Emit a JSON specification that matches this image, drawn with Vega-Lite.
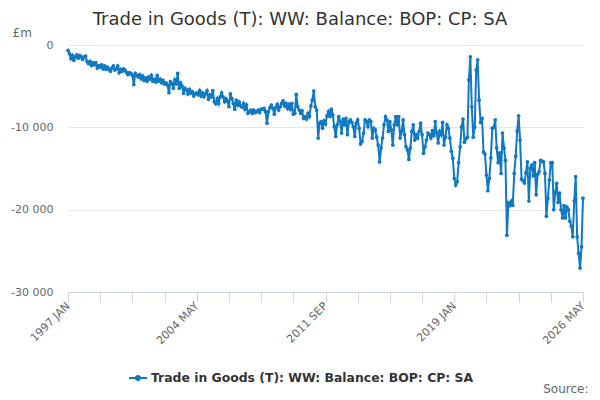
{
  "$schema": "https://vega.github.io/schema/vega-lite/v6.json",
  "width": 515,
  "height": 247,
  "autosize": "none",
  "padding": {"left": 68, "top": 45, "right": 17, "bottom": 108},
  "background": "white",
  "title": {
    "text": "Trade in Goods (T): WW: Balance: BOP: CP: SA",
    "anchor": "middle",
    "frame": "group",
    "dx": -25.5,
    "offset": -3,
    "font": "DejaVu Sans",
    "fontSize": 18,
    "fontWeight": "normal",
    "color": "#333333"
  },
  "config": {
    "view": {"stroke": null},
    "font": "DejaVu Sans"
  },
  "data": {
    "values": [
      {"period": "1997 JAN", "value": -650}, {"period": "1997 FEB", "value": -1050}, {"period": "1997 MAR", "value": -1650}, {"period": "1997 APR", "value": -1250},
      {"period": "1997 MAY", "value": -1850}, {"period": "1997 JUN", "value": -1450}, {"period": "1997 JUL", "value": -1200}, {"period": "1997 AUG", "value": -1600},
      {"period": "1997 SEP", "value": -1250}, {"period": "1997 OCT", "value": -1450}, {"period": "1997 NOV", "value": -1750}, {"period": "1997 DEC", "value": -1450},
      {"period": "1998 JAN", "value": -1350}, {"period": "1998 FEB", "value": -2000}, {"period": "1998 MAR", "value": -2250}, {"period": "1998 APR", "value": -2000},
      {"period": "1998 MAY", "value": -2500}, {"period": "1998 JUN", "value": -2150}, {"period": "1998 JUL", "value": -2400}, {"period": "1998 AUG", "value": -2150},
      {"period": "1998 SEP", "value": -2800}, {"period": "1998 OCT", "value": -2500}, {"period": "1998 NOV", "value": -2700}, {"period": "1998 DEC", "value": -2400},
      {"period": "1999 JAN", "value": -2900}, {"period": "1999 FEB", "value": -2550}, {"period": "1999 MAR", "value": -2950}, {"period": "1999 APR", "value": -2700},
      {"period": "1999 MAY", "value": -2950}, {"period": "1999 JUN", "value": -3200}, {"period": "1999 JUL", "value": -2800}, {"period": "1999 AUG", "value": -2550},
      {"period": "1999 SEP", "value": -3050}, {"period": "1999 OCT", "value": -2900}, {"period": "1999 NOV", "value": -2550}, {"period": "1999 DEC", "value": -3350},
      {"period": "2000 JAN", "value": -2950}, {"period": "2000 FEB", "value": -3200}, {"period": "2000 MAR", "value": -2900}, {"period": "2000 APR", "value": -3050},
      {"period": "2000 MAY", "value": -3350}, {"period": "2000 JUN", "value": -3600}, {"period": "2000 JUL", "value": -3350}, {"period": "2000 AUG", "value": -3450},
      {"period": "2000 SEP", "value": -3700}, {"period": "2000 OCT", "value": -4800}, {"period": "2000 NOV", "value": -3450}, {"period": "2000 DEC", "value": -3700},
      {"period": "2001 JAN", "value": -3900}, {"period": "2001 FEB", "value": -3600}, {"period": "2001 MAR", "value": -4100}, {"period": "2001 APR", "value": -3750},
      {"period": "2001 MAY", "value": -4300}, {"period": "2001 JUN", "value": -4000}, {"period": "2001 JUL", "value": -4400}, {"period": "2001 AUG", "value": -3900},
      {"period": "2001 SEP", "value": -4150}, {"period": "2001 OCT", "value": -3700}, {"period": "2001 NOV", "value": -4400}, {"period": "2001 DEC", "value": -4150},
      {"period": "2002 JAN", "value": -4500}, {"period": "2002 FEB", "value": -3700}, {"period": "2002 MAR", "value": -4400}, {"period": "2002 APR", "value": -4150},
      {"period": "2002 MAY", "value": -4600}, {"period": "2002 JUN", "value": -4300}, {"period": "2002 JUL", "value": -4750}, {"period": "2002 AUG", "value": -4600},
      {"period": "2002 SEP", "value": -4850}, {"period": "2002 OCT", "value": -5800}, {"period": "2002 NOV", "value": -4450}, {"period": "2002 DEC", "value": -4650},
      {"period": "2003 JAN", "value": -5250}, {"period": "2003 FEB", "value": -4250}, {"period": "2003 MAR", "value": -4750}, {"period": "2003 APR", "value": -3450},
      {"period": "2003 MAY", "value": -5250}, {"period": "2003 JUN", "value": -4600}, {"period": "2003 JUL", "value": -5000}, {"period": "2003 AUG", "value": -5850},
      {"period": "2003 SEP", "value": -5250}, {"period": "2003 OCT", "value": -5450}, {"period": "2003 NOV", "value": -5950}, {"period": "2003 DEC", "value": -5400},
      {"period": "2004 JAN", "value": -5850}, {"period": "2004 FEB", "value": -5650}, {"period": "2004 MAR", "value": -6200}, {"period": "2004 APR", "value": -5950},
      {"period": "2004 MAY", "value": -5800}, {"period": "2004 JUN", "value": -6050}, {"period": "2004 JUL", "value": -5550}, {"period": "2004 AUG", "value": -6200},
      {"period": "2004 SEP", "value": -5800}, {"period": "2004 OCT", "value": -6300}, {"period": "2004 NOV", "value": -5950}, {"period": "2004 DEC", "value": -5550},
      {"period": "2005 JAN", "value": -6600}, {"period": "2005 FEB", "value": -6050}, {"period": "2005 MAR", "value": -6300}, {"period": "2005 APR", "value": -5550},
      {"period": "2005 MAY", "value": -6900}, {"period": "2005 JUN", "value": -7150}, {"period": "2005 JUL", "value": -6500}, {"period": "2005 AUG", "value": -7100},
      {"period": "2005 SEP", "value": -6300}, {"period": "2005 OCT", "value": -5800}, {"period": "2005 NOV", "value": -6300}, {"period": "2005 DEC", "value": -6900},
      {"period": "2006 JAN", "value": -6500}, {"period": "2006 FEB", "value": -6800}, {"period": "2006 MAR", "value": -7500}, {"period": "2006 APR", "value": -5950},
      {"period": "2006 MAY", "value": -6500}, {"period": "2006 JUN", "value": -7100}, {"period": "2006 JUL", "value": -7800}, {"period": "2006 AUG", "value": -6700},
      {"period": "2006 SEP", "value": -7300}, {"period": "2006 OCT", "value": -6900}, {"period": "2006 NOV", "value": -7400}, {"period": "2006 DEC", "value": -7550},
      {"period": "2007 JAN", "value": -7100}, {"period": "2007 FEB", "value": -7800}, {"period": "2007 MAR", "value": -7300}, {"period": "2007 APR", "value": -8300},
      {"period": "2007 MAY", "value": -8100}, {"period": "2007 JUN", "value": -7900}, {"period": "2007 JUL", "value": -8300}, {"period": "2007 AUG", "value": -7900},
      {"period": "2007 SEP", "value": -8200}, {"period": "2007 OCT", "value": -8100}, {"period": "2007 NOV", "value": -7900}, {"period": "2007 DEC", "value": -8200},
      {"period": "2008 JAN", "value": -7800}, {"period": "2008 FEB", "value": -7800}, {"period": "2008 MAR", "value": -7700}, {"period": "2008 APR", "value": -8100},
      {"period": "2008 MAY", "value": -9500}, {"period": "2008 JUN", "value": -8100}, {"period": "2008 JUL", "value": -7600}, {"period": "2008 AUG", "value": -7300},
      {"period": "2008 SEP", "value": -7700}, {"period": "2008 OCT", "value": -8400}, {"period": "2008 NOV", "value": -7600}, {"period": "2008 DEC", "value": -7200},
      {"period": "2009 JAN", "value": -7900}, {"period": "2009 FEB", "value": -7500}, {"period": "2009 MAR", "value": -7100}, {"period": "2009 APR", "value": -6800},
      {"period": "2009 MAY", "value": -7400}, {"period": "2009 JUN", "value": -7100}, {"period": "2009 JUL", "value": -7700}, {"period": "2009 AUG", "value": -7200},
      {"period": "2009 SEP", "value": -7800}, {"period": "2009 OCT", "value": -7100}, {"period": "2009 NOV", "value": -8400}, {"period": "2009 DEC", "value": -8300},
      {"period": "2010 JAN", "value": -6000}, {"period": "2010 FEB", "value": -7500}, {"period": "2010 MAR", "value": -7900}, {"period": "2010 APR", "value": -8300},
      {"period": "2010 MAY", "value": -8000}, {"period": "2010 JUN", "value": -8900}, {"period": "2010 JUL", "value": -8700}, {"period": "2010 AUG", "value": -9000},
      {"period": "2010 SEP", "value": -8300}, {"period": "2010 OCT", "value": -8700}, {"period": "2010 NOV", "value": -7400}, {"period": "2010 DEC", "value": -6700},
      {"period": "2011 JAN", "value": -5600}, {"period": "2011 FEB", "value": -7500}, {"period": "2011 MAR", "value": -7900}, {"period": "2011 APR", "value": -11300},
      {"period": "2011 MAY", "value": -9500}, {"period": "2011 JUN", "value": -9300}, {"period": "2011 JUL", "value": -10100}, {"period": "2011 AUG", "value": -9200},
      {"period": "2011 SEP", "value": -9600}, {"period": "2011 OCT", "value": -8600}, {"period": "2011 NOV", "value": -8100}, {"period": "2011 DEC", "value": -8700},
      {"period": "2012 JAN", "value": -7800}, {"period": "2012 FEB", "value": -8500}, {"period": "2012 MAR", "value": -9900}, {"period": "2012 APR", "value": -11100},
      {"period": "2012 MAY", "value": -9700}, {"period": "2012 JUN", "value": -8700}, {"period": "2012 JUL", "value": -9300}, {"period": "2012 AUG", "value": -10700},
      {"period": "2012 SEP", "value": -9000}, {"period": "2012 OCT", "value": -9700}, {"period": "2012 NOV", "value": -8900}, {"period": "2012 DEC", "value": -10900},
      {"period": "2013 JAN", "value": -9300}, {"period": "2013 FEB", "value": -9100}, {"period": "2013 MAR", "value": -9400}, {"period": "2013 APR", "value": -9900},
      {"period": "2013 MAY", "value": -11100}, {"period": "2013 JUN", "value": -9500}, {"period": "2013 JUL", "value": -9100}, {"period": "2013 AUG", "value": -10100},
      {"period": "2013 SEP", "value": -12000}, {"period": "2013 OCT", "value": -11700}, {"period": "2013 NOV", "value": -10700}, {"period": "2013 DEC", "value": -9100},
      {"period": "2014 JAN", "value": -9300}, {"period": "2014 FEB", "value": -9900}, {"period": "2014 MAR", "value": -9100}, {"period": "2014 APR", "value": -9300},
      {"period": "2014 MAY", "value": -11300}, {"period": "2014 JUN", "value": -10100}, {"period": "2014 JUL", "value": -10300}, {"period": "2014 AUG", "value": -11200},
      {"period": "2014 SEP", "value": -12150}, {"period": "2014 OCT", "value": -14200}, {"period": "2014 NOV", "value": -12500}, {"period": "2014 DEC", "value": -11300},
      {"period": "2015 JAN", "value": -9700}, {"period": "2015 FEB", "value": -8700}, {"period": "2015 MAR", "value": -9100}, {"period": "2015 APR", "value": -10500},
      {"period": "2015 MAY", "value": -9300}, {"period": "2015 JUN", "value": -10300}, {"period": "2015 JUL", "value": -12150}, {"period": "2015 AUG", "value": -9700},
      {"period": "2015 SEP", "value": -8700}, {"period": "2015 OCT", "value": -9700}, {"period": "2015 NOV", "value": -8700}, {"period": "2015 DEC", "value": -11300},
      {"period": "2016 JAN", "value": -10500}, {"period": "2016 FEB", "value": -9100}, {"period": "2016 MAR", "value": -10900}, {"period": "2016 APR", "value": -12350},
      {"period": "2016 MAY", "value": -12750}, {"period": "2016 JUN", "value": -13900}, {"period": "2016 JUL", "value": -12500}, {"period": "2016 AUG", "value": -10500},
      {"period": "2016 SEP", "value": -9700}, {"period": "2016 OCT", "value": -11550}, {"period": "2016 NOV", "value": -10900}, {"period": "2016 DEC", "value": -11300},
      {"period": "2017 JAN", "value": -10500}, {"period": "2017 FEB", "value": -9500}, {"period": "2017 MAR", "value": -10900}, {"period": "2017 APR", "value": -13150},
      {"period": "2017 MAY", "value": -12350}, {"period": "2017 JUN", "value": -11550}, {"period": "2017 JUL", "value": -10700}, {"period": "2017 AUG", "value": -10900},
      {"period": "2017 SEP", "value": -11300}, {"period": "2017 OCT", "value": -10400}, {"period": "2017 NOV", "value": -11050}, {"period": "2017 DEC", "value": -9300},
      {"period": "2018 JAN", "value": -10700}, {"period": "2018 FEB", "value": -11900}, {"period": "2018 MAR", "value": -10500}, {"period": "2018 APR", "value": -10900},
      {"period": "2018 MAY", "value": -9400}, {"period": "2018 JUN", "value": -12150}, {"period": "2018 JUL", "value": -11200}, {"period": "2018 AUG", "value": -9700},
      {"period": "2018 SEP", "value": -10100}, {"period": "2018 OCT", "value": -11300}, {"period": "2018 NOV", "value": -12900}, {"period": "2018 DEC", "value": -13750},
      {"period": "2019 JAN", "value": -16200}, {"period": "2019 FEB", "value": -17000}, {"period": "2019 MAR", "value": -16600}, {"period": "2019 APR", "value": -14300},
      {"period": "2019 MAY", "value": -12400}, {"period": "2019 JUN", "value": -9950}, {"period": "2019 JUL", "value": -9000}, {"period": "2019 AUG", "value": -11800},
      {"period": "2019 SEP", "value": -11400}, {"period": "2019 OCT", "value": -11200}, {"period": "2019 NOV", "value": -4250}, {"period": "2019 DEC", "value": -1450},
      {"period": "2020 JAN", "value": -7500}, {"period": "2020 FEB", "value": -11200}, {"period": "2020 MAR", "value": -9950}, {"period": "2020 APR", "value": -3050},
      {"period": "2020 MAY", "value": -1800}, {"period": "2020 JUN", "value": -6700}, {"period": "2020 JUL", "value": -9400}, {"period": "2020 AUG", "value": -8900},
      {"period": "2020 SEP", "value": -13000}, {"period": "2020 OCT", "value": -13250}, {"period": "2020 NOV", "value": -15800}, {"period": "2020 DEC", "value": -17700},
      {"period": "2021 JAN", "value": -16200}, {"period": "2021 FEB", "value": -13700}, {"period": "2021 MAR", "value": -10100}, {"period": "2021 APR", "value": -10000},
      {"period": "2021 MAY", "value": -9100}, {"period": "2021 JUN", "value": -12500}, {"period": "2021 JUL", "value": -14300}, {"period": "2021 AUG", "value": -13100},
      {"period": "2021 SEP", "value": -15600}, {"period": "2021 OCT", "value": -10700}, {"period": "2021 NOV", "value": -12500}, {"period": "2021 DEC", "value": -14000},
      {"period": "2022 JAN", "value": -23100}, {"period": "2022 FEB", "value": -19200}, {"period": "2022 MAR", "value": -19500}, {"period": "2022 APR", "value": -18950},
      {"period": "2022 MAY", "value": -19450}, {"period": "2022 JUN", "value": -15600}, {"period": "2022 JUL", "value": -13500}, {"period": "2022 AUG", "value": -10450},
      {"period": "2022 SEP", "value": -8600}, {"period": "2022 OCT", "value": -11550}, {"period": "2022 NOV", "value": -16300}, {"period": "2022 DEC", "value": -16500},
      {"period": "2023 JAN", "value": -16750}, {"period": "2023 FEB", "value": -15500}, {"period": "2023 MAR", "value": -14200}, {"period": "2023 APR", "value": -18950},
      {"period": "2023 MAY", "value": -14950}, {"period": "2023 JUN", "value": -14600}, {"period": "2023 JUL", "value": -15900}, {"period": "2023 AUG", "value": -14300},
      {"period": "2023 SEP", "value": -18200}, {"period": "2023 OCT", "value": -15700}, {"period": "2023 NOV", "value": -15400}, {"period": "2023 DEC", "value": -14000},
      {"period": "2024 JAN", "value": -14100}, {"period": "2024 FEB", "value": -14200}, {"period": "2024 MAR", "value": -15600}, {"period": "2024 APR", "value": -20800},
      {"period": "2024 MAY", "value": -18600}, {"period": "2024 JUN", "value": -16400}, {"period": "2024 JUL", "value": -14300}, {"period": "2024 AUG", "value": -14300},
      {"period": "2024 SEP", "value": -20000}, {"period": "2024 OCT", "value": -17900}, {"period": "2024 NOV", "value": -16800}, {"period": "2024 DEC", "value": -19100},
      {"period": "2025 JAN", "value": -18000}, {"period": "2025 FEB", "value": -20000}, {"period": "2025 MAR", "value": -21000}, {"period": "2025 APR", "value": -19500},
      {"period": "2025 MAY", "value": -21000}, {"period": "2025 JUN", "value": -19700}, {"period": "2025 JUL", "value": -20000}, {"period": "2025 AUG", "value": -21400},
      {"period": "2025 SEP", "value": -22000}, {"period": "2025 OCT", "value": -23300}, {"period": "2025 NOV", "value": -18950}, {"period": "2025 DEC", "value": -16000},
      {"period": "2026 JAN", "value": -23300}, {"period": "2026 FEB", "value": -25300}, {"period": "2026 MAR", "value": -27100}, {"period": "2026 APR", "value": -24500},
      {"period": "2026 MAY", "value": -18600}
    ]
  },
  "mark": {
    "type": "line",
    "strokeWidth": 2,
    "point": {"filled": true, "size": 14}
  },
  "encoding": {
    "x": {
      "field": "period",
      "type": "ordinal",
      "sort": null,
      "scale": {"type": "point", "padding": 0},
      "axis": {
        "values": ["1997 JAN", "1998 NOV", "2000 SEP", "2002 JUL", "2004 MAY", "2006 MAR", "2008 JAN", "2009 NOV", "2011 SEP", "2013 JUL", "2015 MAY", "2017 MAR", "2019 JAN", "2020 NOV", "2022 SEP", "2024 JUL", "2026 MAY"],
        "labelExpr": "indexof(['1997 JAN', '2004 MAY', '2011 SEP', '2019 JAN', '2026 MAY'], datum.value) >= 0 ? datum.value : ''",
        "labelAngle": -45,
        "labelAlign": "right",
        "labelBaseline": "middle",
        "labelPadding": 2,
        "labelFontSize": 11,
        "labelColor": "#666666",
        "labelOverlap": false,
        "domainColor": "#ccd6eb",
        "tickColor": "#ccd6eb",
        "tickSize": 10,
        "grid": false,
        "title": "Source:",
        "titleFontSize": 12,
        "titleFontWeight": "normal",
        "titleColor": "#666666",
        "titleAlign": "right",
        "titleBaseline": "middle",
        "titleX": 520,
        "titleY": 96
      }
    },
    "y": {
      "field": "value",
      "type": "quantitative",
      "scale": {"domain": [-30000, 0], "nice": false},
      "axis": {
        "values": [0, -10000, -20000, -30000],
        "labelExpr": "replace(replace(format(datum.value, ','), ',', ' '), '\u2212', '-')",
        "labelFontSize": 11,
        "labelColor": "#666666",
        "labelPadding": 15,
        "ticks": false,
        "domain": false,
        "gridColor": "#e6e6e6",
        "title": "£m",
        "titleAngle": 0,
        "titleAlign": "left",
        "titleBaseline": "middle",
        "titleX": -56,
        "titleY": -13,
        "titleFontSize": 12,
        "titleFontWeight": "normal",
        "titleColor": "#666666"
      }
    },
    "color": {
      "datum": "Trade in Goods (T): WW: Balance: BOP: CP: SA",
      "type": "nominal",
      "scale": {"range": ["#1079c1"]},
      "legend": {
        "title": null,
        "orient": "none",
        "legendX": 60,
        "legendY": 323,
        "symbolType": "M-1,0H1M-0.22,0A0.22,0.22 0 1,1 0.22,0A0.22,0.22 0 1,1 -0.22,0Z",
        "symbolSize": 324,
        "symbolStrokeWidth": 2,
        "labelFont": "DejaVu Sans",
        "labelFontSize": 12.4,
        "labelFontWeight": "bold",
        "labelColor": "#333333",
        "labelOffset": 3,
        "labelLimit": 500
      }
    }
  }
}
